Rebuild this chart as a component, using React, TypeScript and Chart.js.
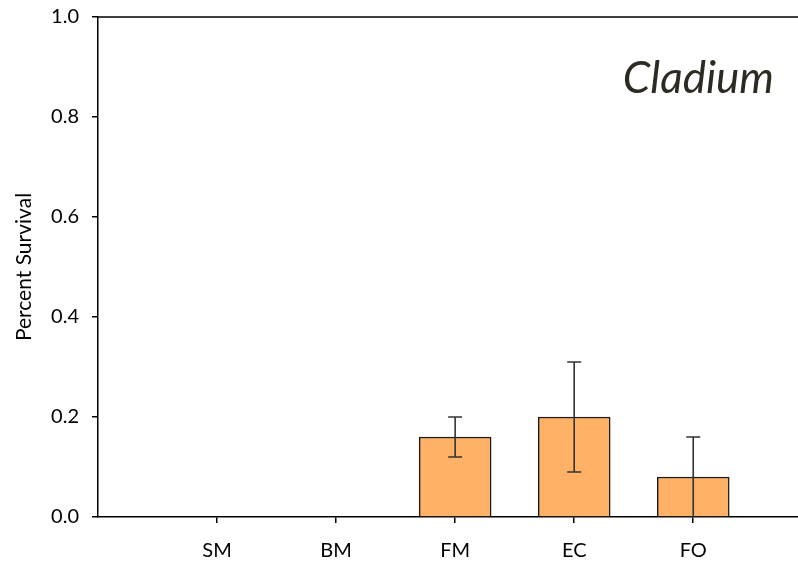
import React, { useEffect, useRef } from "react";
import { Chart, registerables } from "chart.js";

Chart.register(...registerables);

const categories = ["SM", "BM", "FM", "EC", "FO"];
const survival = [0, 0, 0.16, 0.2, 0.08];
const errLow = [0, 0, 0.12, 0.09, 0.0];
const errHigh = [0, 0, 0.2, 0.31, 0.16];
const yTicks = [0, 0.2, 0.4, 0.6, 0.8, 1.0];

const FONT = "Lato, 'Open Sans', sans-serif";

const extrasPlugin = {
  id: "extras",
  afterDatasetsDraw(chart: any) {
    const { ctx, chartArea, scales } = chart;
    const xs = scales.x;
    const ys = scales.y;
    ctx.save();
    // error bars
    ctx.strokeStyle = "#333333";
    ctx.lineWidth = 1.6;
    const cap = 7;
    categories.forEach((_, i) => {
      if (errHigh[i] === errLow[i]) return;
      const x = xs.getPixelForValue(i);
      const yh = ys.getPixelForValue(errHigh[i]);
      const yl = ys.getPixelForValue(errLow[i]);
      ctx.beginPath();
      ctx.moveTo(x, yh);
      ctx.lineTo(x, yl);
      ctx.moveTo(x - cap, yh);
      ctx.lineTo(x + cap, yh);
      if (errLow[i] > 0) {
        ctx.moveTo(x - cap, yl);
        ctx.lineTo(x + cap, yl);
      }
      ctx.stroke();
    });
    // top frame line
    ctx.strokeStyle = "#000";
    ctx.lineWidth = 1.5;
    ctx.beginPath();
    ctx.moveTo(chartArea.left, chartArea.top);
    ctx.lineTo(chartArea.right, chartArea.top);
    ctx.stroke();
    // species label
    ctx.fillStyle = "#2d2a22";
    ctx.font = `italic 44px ${FONT}`;
    ctx.textAlign = "right";
    ctx.textBaseline = "alphabetic";
    ctx.fillText("Cladium", 774, 93);
    ctx.restore();
  },
};

export default function App() {
  const ref = useRef<HTMLCanvasElement | null>(null);
  useEffect(() => {
    if (!ref.current) return;
    const chart = new Chart(ref.current, {
      type: "bar",
      data: {
        datasets: [
          {
            data: categories.map((_, i) => ({ x: i, y: survival[i] })),
            backgroundColor: "#FFB266",
            borderColor: "#1a1a1a",
            borderWidth: 1.5,
            barThickness: 72,
          },
        ],
      },
      options: {
        animation: false,
        responsive: false,
        maintainAspectRatio: false,
        layout: { padding: { top: 17, left: 0, right: 0, bottom: 0 } },
        plugins: { legend: { display: false }, tooltip: { enabled: false } },
        scales: {
          x: {
            type: "linear",
            offset: false,
            min: -1,
            max: 4.88,
            afterBuildTicks: (s: any) => {
              s.ticks = categories.map((_, i) => ({ value: i }));
            },
            afterFit: (s: any) => {
              s.height = 46;
              s.paddingLeft = 0;
              s.paddingRight = 0;
            },
            ticks: {
              callback: (v: any) => categories[v] ?? "",
              color: "#000",
              font: { family: FONT, size: 20 },
              padding: 16,
              maxRotation: 0,
              autoSkip: false,
            },
            grid: {
              display: true,
              offset: false,
              drawOnChartArea: false,
              drawTicks: true,
              tickLength: 6,
              color: "#000",
              lineWidth: 1.5,
            },
            border: { display: true, color: "#000", width: 1.5 },
          },
          y: {
            min: 0,
            max: 1,
            afterBuildTicks: (s: any) => {
              s.ticks = yTicks.map((v) => ({ value: v }));
            },
            afterFit: (s: any) => {
              s.width = 98;
              s.paddingTop = 0;
              s.paddingBottom = 0;
            },
            ticks: {
              callback: (v: any) => Number(v).toFixed(1),
              color: "#000",
              font: { family: FONT, size: 20 },
              padding: 13,
            },
            grid: {
              display: true,
              drawOnChartArea: false,
              drawTicks: true,
              tickLength: 6,
              color: "#000",
              lineWidth: 1.5,
            },
            border: { display: true, color: "#000", width: 1.5 },
            title: {
              display: true,
              text: "Percent Survival",
              color: "#000",
              font: { family: FONT, size: 21 },
              padding: { top: 12, bottom: 0 },
            },
          },
        },
      },
      plugins: [extrasPlugin],
    });
    return () => chart.destroy();
  }, []);
  return (
    <div style={{ position: "absolute", left: 0, top: 0, width: 798, height: 563, background: "#fff" }}>
      <canvas ref={ref} width={798} height={563} style={{ width: 798, height: 563, display: "block" }} />
    </div>
  );
}
